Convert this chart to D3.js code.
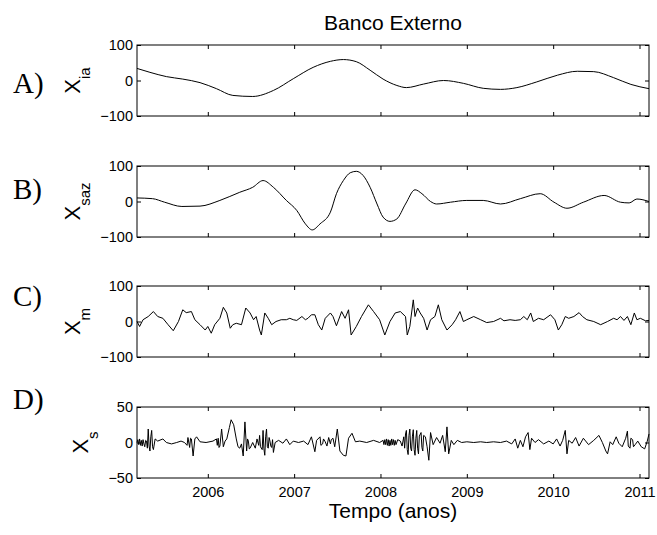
<!DOCTYPE html>
<html>
<head>
<meta charset="utf-8">
<script src="https://cdn.jsdelivr.net/npm/d3@7"></script>
<style>
  body { margin: 0; background: #fff; }
  svg { display: block; }
  .tick text { font-family: Arial, "Liberation Sans", sans-serif; font-size: 14.5px; fill: #000; }
  .tick line { stroke: #000; }
</style>
</head>
<body>
<svg id="chart" width="657" height="535"></svg>
<script>
// tick years on the time axis
const years = [2006, 2007, 2008, 2009, 2010, 2011];

// A) interannual component [year, value]
const xia = [[2005.18,34],[2005.33,23],[2005.52,11],[2005.71,4],[2005.91,-6],[2006.10,-23],
  [2006.29,-42],[2006.52,-45],[2006.76,-28],[2006.99,5],[2007.22,37],[2007.42,54],[2007.57,59],
  [2007.72,53],[2007.88,29],[2008.03,4],[2008.19,-14],[2008.30,-20],[2008.50,-10],[2008.73,0],
  [2008.96,-8],[2009.19,-22],[2009.39,-25],[2009.58,-20],[2009.81,-4],[2010.05,15],[2010.28,26],
  [2010.47,25],[2010.70,8],[2010.90,-11],[2011.11,-23]];

// B) seasonal component
const xsaz = [[2005.18,10],[2005.36,8],[2005.50,-2],[2005.70,-14],[2005.91,-13],[2006.14,3],
  [2006.37,26],[2006.52,40],[2006.64,59],[2006.76,40],[2006.91,3],[2007.03,-25],[2007.13,-63],
  [2007.21,-80],[2007.30,-63],[2007.42,-30],[2007.49,22],[2007.57,59],[2007.65,81],[2007.72,85],
  [2007.80,73],[2007.88,40],[2007.96,-7],[2008.03,-44],[2008.11,-56],[2008.19,-49],[2008.29,-7],
  [2008.40,33],[2008.48,22],[2008.58,0],[2008.65,-7],[2008.81,-2],[2009.00,3],[2009.19,3],
  [2009.39,-7],[2009.62,8],[2009.85,22],[2010.01,-2],[2010.16,-19],[2010.35,-2],[2010.59,17],
  [2010.78,-2],[2010.88,-4],[2010.97,7],[2011.11,0]];

// C) meso-scale component
const xm = [[2005.18,0],[2005.21,-14],[2005.25,5],[2005.31,14],[2005.37,28],[2005.42,14],[2005.48,9],
  [2005.54,-9],[2005.60,-26],[2005.66,0],[2005.71,33],[2005.75,25],[2005.81,28],[2005.85,5],
  [2005.91,-9],[2005.97,-24],[2006.00,-14],[2006.04,-33],[2006.08,-9],[2006.14,9],[2006.18,40],
  [2006.22,24],[2006.26,-19],[2006.29,-9],[2006.33,-5],[2006.39,-9],[2006.44,38],[2006.49,24],
  [2006.53,5],[2006.56,14],[2006.60,-24],[2006.62,-38],[2006.66,24],[2006.70,9],[2006.74,-9],
  [2006.79,0],[2006.85,5],[2006.91,5],[2006.95,9],[2006.99,5],[2007.03,3],[2007.09,14],[2007.13,5],
  [2007.16,9],[2007.20,19],[2007.24,19],[2007.28,-9],[2007.32,-24],[2007.36,9],[2007.42,24],
  [2007.45,14],[2007.49,-12],[2007.55,28],[2007.59,9],[2007.63,33],[2007.66,-38],[2007.72,-14],
  [2007.78,14],[2007.86,47],[2007.92,28],[2007.99,5],[2008.05,-38],[2008.11,0],[2008.17,24],
  [2008.23,28],[2008.29,14],[2008.31,-38],[2008.34,-14],[2008.38,61],[2008.40,14],[2008.43,38],
  [2008.46,24],[2008.50,9],[2008.54,-24],[2008.58,5],[2008.63,14],[2008.67,47],[2008.71,5],
  [2008.77,-24],[2008.83,-9],[2008.87,5],[2008.92,28],[2008.96,0],[2009.00,5],[2009.08,14],
  [2009.16,5],[2009.23,-3],[2009.31,0],[2009.39,9],[2009.43,2],[2009.50,5],[2009.56,3],[2009.62,5],
  [2009.66,14],[2009.70,5],[2009.74,24],[2009.77,0],[2009.83,9],[2009.89,5],[2009.97,19],
  [2010.02,5],[2010.06,-24],[2010.10,-9],[2010.14,14],[2010.18,9],[2010.24,14],[2010.30,25],
  [2010.34,14],[2010.39,5],[2010.47,0],[2010.55,-9],[2010.63,0],[2010.70,9],[2010.74,5],
  [2010.78,14],[2010.82,3],[2010.86,14],[2010.90,-9],[2010.94,24],[2010.97,5],[2011.01,9],
  [2011.07,2],[2011.11,3]];

// D) sub-meso-scale component
const xs = [[2005.18,0],[2005.19,4],[2005.20,-3],[2005.21,5],[2005.22,-4],[2005.23,3],[2005.24,-5],
  [2005.25,4],[2005.26,-2],[2005.27,-6],[2005.28,3],[2005.29,2],[2005.30,-8],[2005.31,19],[2005.32,-5],
  [2005.33,-12],[2005.34,8],[2005.35,17],[2005.36,-6],[2005.37,-10],[2005.39,5],[2005.42,2],[2005.48,5],
  [2005.52,0],[2005.58,-2],[2005.64,0],[2005.69,2],[2005.73,0],[2005.76,-4],[2005.77,7],[2005.79,-7],
  [2005.80,6],[2005.81,5],[2005.83,-19],[2005.85,5],[2005.87,8],[2005.91,1],[2005.98,0],[2006.06,2],
  [2006.10,5],[2006.11,-4],[2006.12,6],[2006.13,-7],[2006.14,-5],[2006.16,19],[2006.18,-6],
  [2006.20,2],[2006.22,5],[2006.25,21],[2006.27,32],[2006.30,25],[2006.33,5],[2006.35,-6],
  [2006.37,-8],[2006.39,-2],[2006.41,-19],[2006.43,29],[2006.45,-12],[2006.46,5],[2006.47,2],
  [2006.48,-9],[2006.49,-8],[2006.52,0],[2006.55,-8],[2006.57,5],[2006.59,-4],[2006.60,10],
  [2006.61,-6],[2006.63,-10],[2006.64,17],[2006.65,-9],[2006.66,-18],[2006.67,8],[2006.68,19],
  [2006.69,-6],[2006.70,-8],[2006.71,7],[2006.72,2],[2006.73,-5],[2006.74,-7],[2006.75,4],
  [2006.76,-14],[2006.78,0],[2006.82,3],[2006.87,-1],[2006.91,5],[2006.95,-3],[2006.99,2],[2007.05,0],
  [2007.11,2],[2007.16,-3],[2007.20,8],[2007.24,-13],[2007.26,3],[2007.30,8],[2007.31,-4],[2007.33,-2],
  [2007.34,5],[2007.36,1],[2007.38,-5],[2007.40,7],[2007.42,-2],[2007.43,4],[2007.45,6],[2007.47,-6],
  [2007.50,19],[2007.53,-12],[2007.57,-18],[2007.60,-19],[2007.63,6],[2007.67,13],[2007.71,1],
  [2007.76,2],[2007.84,0],[2007.92,3],[2007.99,0],[2008.03,3],[2008.04,-3],[2008.05,4],[2008.06,-3],
  [2008.07,5],[2008.08,-4],[2008.09,4],[2008.10,-5],[2008.11,3],[2008.12,-4],[2008.13,5],[2008.14,-3],
  [2008.15,4],[2008.16,-4],[2008.17,3],[2008.18,-3],[2008.20,4],[2008.23,2],[2008.25,-5],[2008.27,8],
  [2008.28,-8],[2008.29,12],[2008.30,17],[2008.31,-10],[2008.32,-17],[2008.33,10],[2008.34,19],
  [2008.35,-8],[2008.36,-12],[2008.37,9],[2008.38,18],[2008.39,-10],[2008.40,-18],[2008.41,6],
  [2008.42,17],[2008.43,-8],[2008.44,-16],[2008.45,9],[2008.47,14],[2008.48,-7],[2008.49,-12],
  [2008.50,10],[2008.52,8],[2008.54,-6],[2008.56,-25],[2008.58,14],[2008.61,-3],[2008.65,7],
  [2008.69,-1],[2008.72,10],[2008.75,-13],[2008.77,22],[2008.79,-16],[2008.82,3],[2008.85,-3],
  [2008.89,3],[2008.94,0],[2009.00,1],[2009.08,0],[2009.16,1],[2009.23,0],[2009.31,1],[2009.39,0],
  [2009.46,2],[2009.52,-2],[2009.56,5],[2009.59,-8],[2009.62,3],[2009.65,-6],[2009.68,8],[2009.71,14],
  [2009.73,-10],[2009.75,6],[2009.79,0],[2009.83,4],[2009.89,-2],[2009.95,2],[2010.00,-2],[2010.04,5],
  [2010.08,-5],[2010.11,3],[2010.14,17],[2010.16,-16],[2010.18,3],[2010.22,-1],[2010.26,7],
  [2010.30,-5],[2010.35,6],[2010.41,-3],[2010.47,3],[2010.53,10],[2010.57,0],[2010.61,-12],
  [2010.63,-16],[2010.66,1],[2010.69,-3],[2010.73,8],[2010.76,-1],[2010.80,-6],[2010.84,6],
  [2010.86,16],[2010.87,-5],[2010.89,-8],[2010.90,6],[2010.92,4],[2010.93,-6],[2010.95,-3],
  [2010.98,2],[2011.02,-6],[2011.06,-9],[2011.09,2],[2011.11,12]];

const panels = [
  { tag: "A)", name: "ia", data: xia, ticks: [-100, 0, 100], top: 45, curve: d3.curveMonotoneX, labelX: 80, tagY: 93 },
  { tag: "B)", name: "saz", data: xsaz, ticks: [-100, 0, 100], top: 166, curve: d3.curveMonotoneX, labelX: 80, tagY: 199 },
  { tag: "C)", name: "m", data: xm, ticks: [-100, 0, 100], top: 286, curve: d3.curveLinear, labelX: 80, tagY: 306 },
  { tag: "D)", name: "s", data: xs, ticks: [-50, 0, 50], top: 407, curve: d3.curveLinear, labelX: 88, tagY: 409 }
];

const svg = d3.select("#chart");
const left = 137, right = 649, h = 71;
const font = "Arial, 'Liberation Sans', sans-serif";

const x = d3.scaleLinear().domain([2005.18, 2011.11]).range([left, right]);

panels.forEach((p, i) => {
  const y = d3.scaleLinear().domain([p.ticks[0], p.ticks[2]]).range([p.top + h, p.top]);
  const g = svg.append("g");
  const last = i === panels.length - 1;

  // ticks on all four sides, pointing inward
  g.append("g").attr("transform", `translate(0,${p.top + h})`)
    .call(d3.axisBottom(x).tickValues(years).tickSize(-4).tickPadding(9)
      .tickFormat(last ? d3.format("d") : ""))
    .call(a => a.select(".domain").remove());
  g.append("g").attr("transform", `translate(0,${p.top})`)
    .call(d3.axisTop(x).tickValues(years).tickSize(-4).tickFormat(""))
    .call(a => a.select(".domain").remove());
  g.append("g").attr("transform", `translate(${left},0)`)
    .call(d3.axisLeft(y).tickValues(p.ticks).tickSize(-4).tickPadding(4))
    .call(a => a.select(".domain").remove());
  g.append("g").attr("transform", `translate(${right},0)`)
    .call(d3.axisRight(y).tickValues(p.ticks).tickSize(-4).tickFormat(""))
    .call(a => a.select(".domain").remove());

  g.append("rect")
    .attr("x", left).attr("y", p.top)
    .attr("width", right - left).attr("height", h)
    .attr("fill", "none").attr("stroke", "#000").attr("stroke-width", 1);

  const line = d3.line().x(d => x(d[0])).y(d => y(d[1])).curve(p.curve);
  g.append("path")
    .datum(p.data)
    .attr("d", line)
    .attr("fill", "none")
    .attr("stroke", "#000")
    .attr("stroke-width", 1);

  // y label X with subscript
  const mid = p.top + h / 2;
  const lab = g.append("text")
    .attr("transform", `translate(${p.labelX},${mid}) rotate(-90)`)
    .attr("text-anchor", "middle")
    .attr("font-family", font)
    .attr("font-size", 22);
  lab.append("tspan").text("X");
  lab.append("tspan").attr("font-size", 15).attr("dy", 10).text(p.name);

  // panel letter
  g.append("text")
    .attr("x", 13).attr("y", p.tagY)
    .attr("font-family", "'Times New Roman', 'Liberation Serif', serif")
    .attr("font-size", 29)
    .text(p.tag);
});

svg.append("text")
  .attr("x", (left + right) / 2).attr("y", 30)
  .attr("text-anchor", "middle")
  .attr("font-family", font).attr("font-size", 21)
  .text("Banco Externo");

svg.append("text")
  .attr("x", (left + right) / 2).attr("y", 518)
  .attr("text-anchor", "middle")
  .attr("font-family", font).attr("font-size", 21)
  .text("Tempo (anos)");
</script>
</body>
</html>
